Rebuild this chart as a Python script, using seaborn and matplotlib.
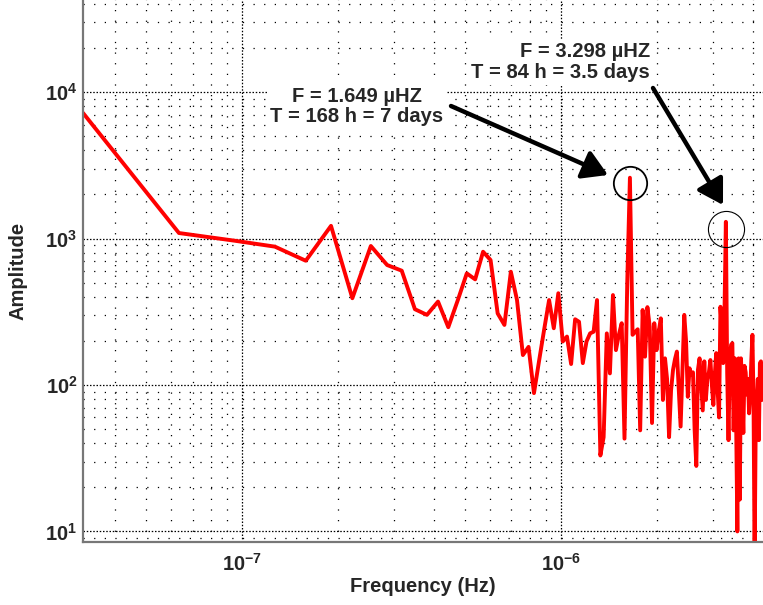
import numpy as np
import matplotlib
matplotlib.use("Agg")
import matplotlib.pyplot as plt
import seaborn as sns

# FFT bins of one year of data: bin k sits at k / (365 days)
bin_index = np.arange(1, 137)
bin_width_hz = 1.0 / (365 * 86400.0)
freq_hz = bin_index * bin_width_hz

# amplitude, bin 1 .. 136
amplitude = [
    7200, 1090, 965, 880, 705, 1220, 391, 889, 659, 603,
    329, 301, 371, 248, 380, 578, 526, 812, 713, 308,
    257, 593, 380, 160, 182, 88, 148, 241, 380, 244,
    423, 198, 214, 139, 281, 270, 141, 198, 225, 231,
    380, 33, 44, 225, 120, 411, 173, 220, 264, 43,
    500, 2600, 220, 230, 240, 49, 325, 156, 340, 250,
    55, 264, 173, 230, 285, 79, 152, 110, 44, 92,
    127, 150, 169, 92, 52, 127, 301, 200, 83, 130,
    117, 122, 49, 28, 127, 152, 100, 67, 145, 79,
    110, 122, 148, 100, 73, 117, 165, 92, 60, 342,
    240, 141, 330, 1300, 120, 42, 148, 188, 193, 49,
    152, 58, 10, 152, 16.5, 152, 92, 47, 135, 122,
    86, 110, 64, 86, 148, 220, 79, 6.4, 49, 79,
    110, 42, 141, 145, 79, 110,
]

# the two marked peaks (weekly cycle and its harmonic)
peak_freqs_hz = [1.649e-6, 3.298e-6]
peak_labels = ["F = 1.649 µHZ\nT = 168 h = 7 days",
               "F = 3.298 µHZ\nT = 84 h = 3.5 days"]

sns.set_style("white")
plt.rcParams["font.family"] = ["Liberation Sans", "DejaVu Sans"]
plt.rcParams["font.weight"] = "bold"
plt.rcParams["mathtext.fontset"] = "custom"
plt.rcParams["mathtext.bf"] = "Liberation Sans:bold"
plt.rcParams["mathtext.rm"] = "Liberation Sans:bold"
plt.rcParams["mathtext.default"] = "bf"

W, H = 763, 605
fig = plt.figure(figsize=(W / 100, H / 100), dpi=100)
ax = fig.add_axes([83 / W, 63 / H, 680 / W, 542 / H])

sns.lineplot(x=freq_hz, y=amplitude, ax=ax, color="#ff0000", linewidth=2.8,
             estimator=None, sort=False)

ax.set_xscale("log")
ax.set_yscale("log")
ax.set_xlim(freq_hz[0], freq_hz[-1])
ax.set_ylim(8.47, 4.25e4)

# matlab style grid
ax.grid(True, which="major", color="black", linestyle=(0, (1.2, 1.4)), linewidth=0.9)
ax.grid(True, which="minor", color="black", linestyle=(0, (1, 7.5)), linewidth=0.9)
ax.set_axisbelow(True)

for side in ["top", "right"]:
    ax.spines[side].set_visible(False)
for side in ["left", "bottom"]:
    ax.spines[side].set_color("#777777")
    ax.spines[side].set_linewidth(1.6)

ax.tick_params(which="both", direction="in", top=False, right=False, color="black")
ax.tick_params(which="major", length=6, width=1, labelsize=14.5)
ax.tick_params(which="minor", length=3.5, width=0.8)
ax.tick_params(axis="x", which="major", pad=8)
ax.tick_params(axis="y", which="major", pad=4)

ax.set_xlabel("Frequency (Hz)", fontsize=14.5, fontweight="bold")
ax.set_ylabel("Amplitude", fontsize=14.5, fontweight="bold")
ax.xaxis.set_label_coords(0.5, -0.064)
ax.yaxis.set_label_coords(-0.081, 0.5)

# circle the two peaks
amp = np.array(amplitude)
i_week = int(np.argmin(np.abs(freq_hz - peak_freqs_hz[0])))
i_half = int(np.argmin(np.abs(freq_hz - peak_freqs_hz[1])))
ax.plot([freq_hz[i_week]], [amp[i_week] * 0.92], "o", ms=24, mfc="none",
        mec="black", mew=1.3, clip_on=False)
ax.plot([freq_hz[i_half]], [amp[i_half] * 0.90], "o", ms=26, mfc="none",
        mec="black", mew=0.8, clip_on=False)


def fig_xy(px, py):
    return (px / W, 1 - py / H)


arrow = dict(arrowstyle="-|>,head_length=0.75,head_width=0.45", mutation_scale=20,
             lw=3.2, color="black", shrinkA=0, shrinkB=0)
ax.annotate("", xy=fig_xy(608, 175), xycoords="figure fraction",
            xytext=fig_xy(451, 106), textcoords="figure fraction", arrowprops=arrow)
ax.annotate("", xy=fig_xy(723, 205), xycoords="figure fraction",
            xytext=fig_xy(653, 88), textcoords="figure fraction", arrowprops=arrow)

box = dict(facecolor="white", edgecolor="none", pad=2)
fig.text(*fig_xy(357, 106.5), peak_labels[0], ha="center", va="center",
         fontsize=14.5, fontweight="bold", linespacing=1.1, bbox=box)
fig.text(*fig_xy(650, 62), peak_labels[1], ha="right", va="center",
         multialignment="right", fontsize=14.5, fontweight="bold",
         linespacing=1.15, bbox=box)

fig.savefig("out.png", dpi=100)
